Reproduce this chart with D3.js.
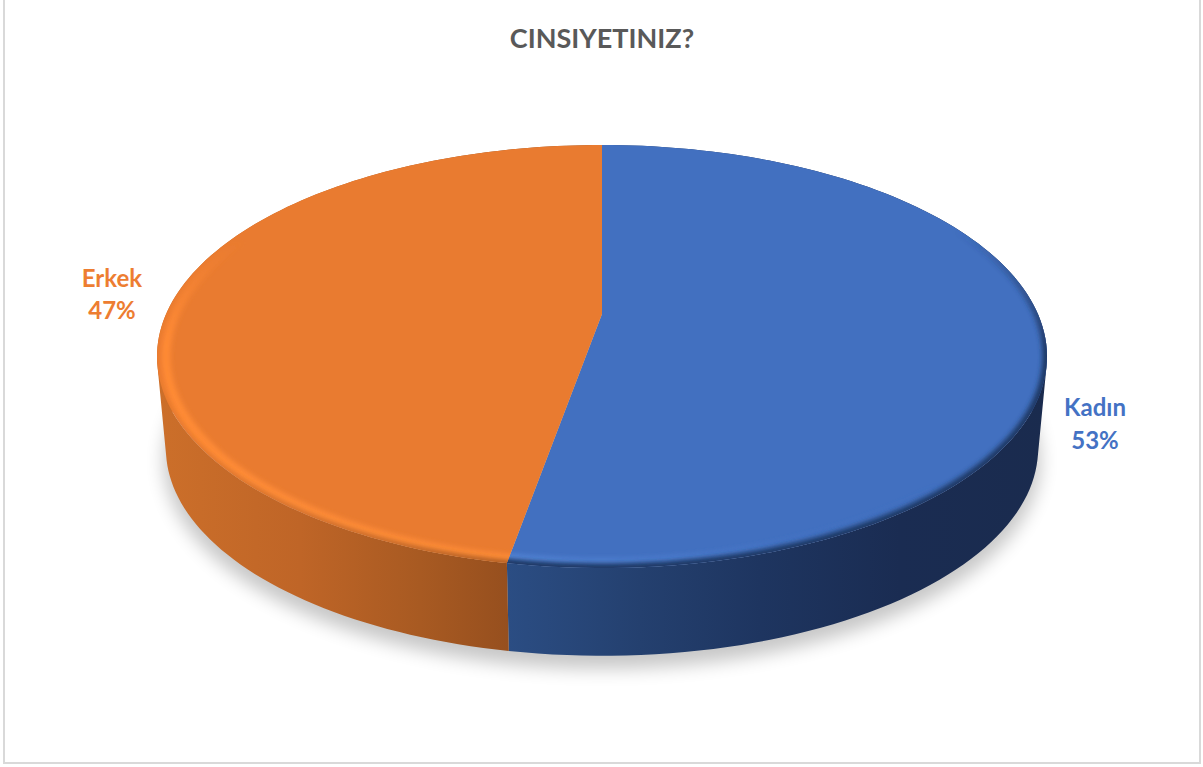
<!DOCTYPE html>
<html>
<head>
<meta charset="utf-8">
<title>Cinsiyetiniz</title>
<script src="https://d3js.org/d3.v7.min.js"></script>
<style>
  html, body { margin: 0; padding: 0; background: #fff; }
  svg { display: block; }
  text { font-family: Lato, "Open Sans", sans-serif; font-weight: 700; text-anchor: middle; }
</style>
</head>
<body>
<svg id="chart" width="1203" height="767"></svg>
<script>
var categories = ["Kadın", "Erkek"];
var values = [52.8, 47.2];
var percentLabels = ["53%", "47%"];
var titleText = "CINSIYETINIZ?";

var CX = 602, TOP_Y = 145, HUB_Y = 314, FRONT_Y = 568;
var faceColors = ["#4270c0", "#e97b30"];
var labelColors = ["#4472c4", "#ed7d31"];

var svg = d3.select("#chart");
var defs = svg.append("defs");

// frame, top edge runs off the picture
svg.append("rect")
  .attr("x", 4).attr("y", -6)
  .attr("width", 1196).attr("height", 769)
  .attr("fill", "#fff").attr("stroke", "#d9d9d9").attr("stroke-width", 2);

// slices, clockwise from the top
var pie = d3.pie().sort(null).value(function(d) { return d; });
var slices = pie(values);

// perspective: circle -> ellipse with the hub above the middle
var backDist = HUB_Y - TOP_Y, frontDist = FRONT_Y - HUB_Y;
var K = (backDist - frontDist) / (backDist + frontDist);
var B = backDist * (1 - K);
var A = 445 * Math.sqrt(1 - K * K);
var midY = (TOP_Y + FRONT_Y) / 2;

function project(angle, scale, drop) {
  var u = Math.sin(angle), v = -Math.cos(angle);
  var den = 1 + K * v;
  var x = A * u / den, y = HUB_Y + B * v / den;
  return [CX + x * scale, midY + (y - midY) * scale + drop];
}
function rim(a0, a1, scale, drop) {
  return d3.range(0, 121).map(function(i) {
    return project(a0 + (a1 - a0) * i / 120, scale, drop);
  });
}
var line = d3.line();

function blur(id, amount) {
  defs.append("filter").attr("id", id)
    .attr("x", "-20%").attr("y", "-20%").attr("width", "140%").attr("height", "140%")
    .append("feGaussianBlur").attr("stdDeviation", amount);
}
blur("shadowBlur", 9);
blur("bevelBlur", 2.5);
blur("darkBlur", 2.5);

// stops are [position in px, colour, opacity]
function gradient(id, vertical, stops) {
  var lo = stops[0][0], hi = stops[stops.length - 1][0];
  var g = defs.append("linearGradient").attr("id", id)
    .attr("gradientUnits", "userSpaceOnUse")
    .attr("x1", vertical ? 0 : lo).attr("x2", vertical ? 0 : hi)
    .attr("y1", vertical ? lo : 0).attr("y2", vertical ? hi : 0);
  stops.forEach(function(s) {
    g.append("stop").attr("offset", (s[0] - lo) / (hi - lo))
      .attr("stop-color", s[1]).attr("stop-opacity", s[2] === undefined ? 1 : s[2]);
  });
}
gradient("sideBlue", false, [[507, "#2b4d83"], [640, "#24406f"], [760, "#1e3560"], [900, "#1a2c52"], [1047, "#1a2b4e"]]);
gradient("sideOrange", false, [[157, "#cc6f2a"], [300, "#bf6527"], [420, "#a85a22"], [510, "#964f1e"]]);
gradient("bevelBlue", false, [[507, "#5b8de0"], [680, "#4f80d4"], [840, "#4273c4", 0.5], [940, "#4273c4", 0]]);
gradient("darkBlue", true, [[230, "#1f3864", 0], [350, "#1f3864", 1], [568, "#1f3864", 1]]);
gradient("bevelOrange", true, [[240, "#ff8a35", 0], [340, "#ff8a35", 1], [568, "#ff8d38", 1]]);
gradient("edgeOrange", false, [[157, "#d8722b", 0], [260, "#c96c2a", 0.6], [507, "#a85a22", 1]]);

// shadow under the pie
svg.append("path")
  .attr("d", line(rim(0, 2 * Math.PI, 0.985, 104)) + "Z")
  .attr("fill", "#000").attr("opacity", 0.22)
  .attr("filter", "url(#shadowBlur)");

// side wall, one quad per rim step so the outline runs straight between the rims
function wallPath(d) {
  var upper = rim(d.startAngle, d.endAngle, 1, 0);
  var lower = rim(d.startAngle, d.endAngle, 0.98, 92);
  return d3.range(0, 120).map(function(i) {
    var quad = [upper[i], upper[i + 1], lower[i + 1], lower[i]];
    if (d3.polygonArea(quad) < 0) quad.reverse();
    return line(quad) + "Z";
  }).join("");
}
var sideIds = ["sideBlue", "sideOrange"];
svg.selectAll("path.side").data(slices).enter().append("path")
  .attr("class", "side")
  .attr("d", wallPath)
  .attr("fill", function(d, i) { return "url(#" + sideIds[i] + ")"; });

// top face
function facePath(d) {
  return line([[CX, HUB_Y]].concat(rim(d.startAngle, d.endAngle, 1, 0))) + "Z";
}
svg.selectAll("path.face").data(slices).enter().append("path")
  .attr("class", "face")
  .attr("d", facePath)
  .attr("fill", function(d, i) { return faceColors[i]; });

// bevel along the near rim
slices.forEach(function(d, i) {
  defs.append("clipPath").attr("id", "faceClip" + i).append("path").attr("d", facePath(d));
});
var split = slices[0].endAngle;
var clipped = svg.append("g").attr("clip-path", "url(#faceClip0)");
clipped.append("path")
  .attr("d", line(rim(Math.PI * 0.5, split + 0.1, 0.972, 0)))
  .attr("fill", "none").attr("stroke", "url(#bevelBlue)").attr("stroke-width", 6)
  .attr("filter", "url(#bevelBlur)");
clipped.append("path")
  .attr("d", line(rim(Math.PI * 0.3, split + 0.1, 1, 0)))
  .attr("fill", "none").attr("stroke", "url(#darkBlue)").attr("stroke-width", 9)
  .attr("filter", "url(#darkBlur)");
var clippedO = svg.append("g").attr("clip-path", "url(#faceClip1)");
clippedO.append("path")
  .attr("d", line(rim(split - 0.1, Math.PI * 1.75, 0.98, 0)))
  .attr("fill", "none").attr("stroke", "url(#bevelOrange)").attr("stroke-width", 9)
  .attr("filter", "url(#bevelBlur)");
clippedO.append("path")
  .attr("d", line(rim(split - 0.1, Math.PI * 1.5, 1, 0)))
  .attr("fill", "none").attr("stroke", "url(#edgeOrange)").attr("stroke-width", 6)
  .attr("filter", "url(#darkBlur)");

// title and labels
svg.append("text").attr("x", 602).attr("y", 48)
  .attr("font-size", 27).attr("fill", "#595959").text(titleText);

var labelPos = [[1095, 416, 449], [112, 287, 319]];
categories.forEach(function(c, i) {
  svg.append("text").attr("x", labelPos[i][0]).attr("y", labelPos[i][1])
    .attr("font-size", 24).attr("fill", labelColors[i]).text(c);
  svg.append("text").attr("x", labelPos[i][0]).attr("y", labelPos[i][2])
    .attr("font-size", 24).attr("fill", labelColors[i]).text(percentLabels[i]);
});
</script>
</body>
</html>
